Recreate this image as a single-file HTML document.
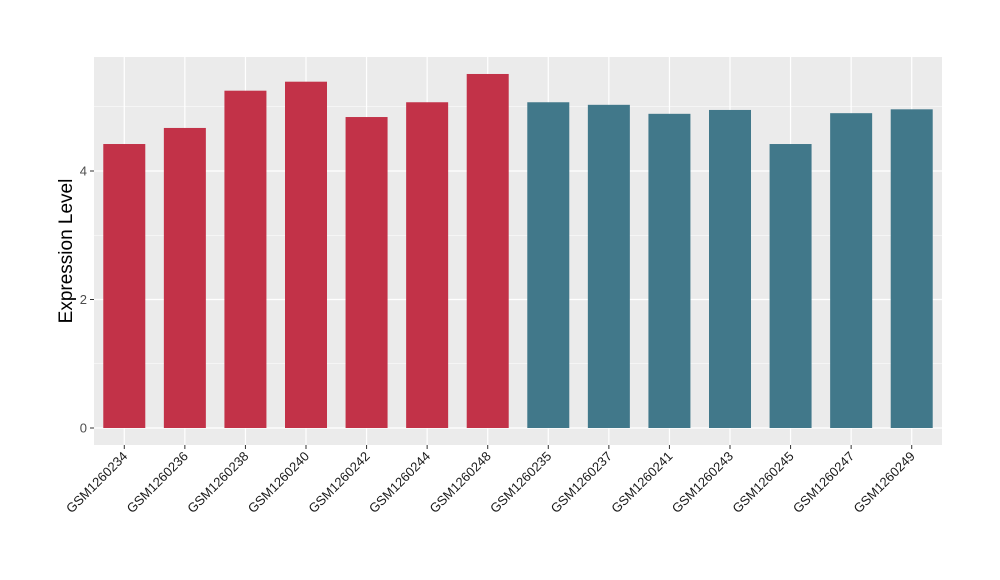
<!DOCTYPE html>
<html><head><meta charset="utf-8"><style>
body{margin:0;background:#fff;}
svg{display:block;font-family:"Liberation Sans",sans-serif;}
</style></head><body>
<svg id="chart" width="1000" height="580">
<rect x="94" y="57" width="848" height="388" fill="#ebebeb"/>
<g id="grid"></g><g id="bars"></g><g id="axes"></g>
<text transform="translate(72,251) rotate(-90)" text-anchor="middle" font-size="19" fill="#000">Expression Level</text>
</svg>
<script>
const categories=["GSM1260234","GSM1260236","GSM1260238","GSM1260240","GSM1260242","GSM1260244","GSM1260248","GSM1260235","GSM1260237","GSM1260241","GSM1260243","GSM1260245","GSM1260247","GSM1260249"];
const values=[4.42,4.67,5.25,5.39,4.84,5.07,5.51,5.07,5.03,4.89,4.95,4.42,4.90,4.96];
const groups=["a","a","a","a","a","a","a","b","b","b","b","b","b","b"];
const yTicks=[0,2,4];
const ns="http://www.w3.org/2000/svg";
const x0=94,x1=942,yZero=428,ppu=64.25;
const step=(x1-x0)/categories.length;
const xs=i=>x0+step*(i+0.5);
const ys=v=>yZero-v*ppu;
const mk=(t,a,p)=>{const e=document.createElementNS(ns,t);for(const k in a)e.setAttribute(k,a[k]);p.appendChild(e);return e;};
const grid=document.getElementById('grid'),bars=document.getElementById('bars'),axes=document.getElementById('axes');
[1,3,5].forEach(v=>{const l=mk('line',{x1:x0,x2:x1,y1:ys(v),y2:ys(v),stroke:'#fff','stroke-width':0.6},grid);

});
yTicks.forEach(v=>{const l=mk('line',{x1:x0,x2:x1,y1:ys(v),y2:ys(v),stroke:'#fff','stroke-width':1.2},grid);


const t=mk('line',{x1:x0-4,x2:x0,y1:ys(v),y2:ys(v),stroke:'#333'},axes);


const tx=mk('text',{x:x0-7,y:ys(v)+4.5,'text-anchor':'end','font-size':13,fill:'#4d4d4d'},axes);
tx.textContent=v;

});
categories.forEach((c,i)=>{const x=xs(i);
const g=mk('line',{x1:x,x2:x,y1:57,y2:445,stroke:'#fff','stroke-width':1.2},grid);


const b=mk('rect',{x:x-21,width:42,y:ys(values[i]),height:values[i]*ppu,fill:groups[i]==='a'?'#c23248':'#41788a'},bars);


const t=mk('line',{x1:x,x2:x,y1:445,y2:449,stroke:'#333'},axes);


const tx=mk('text',{'text-anchor':'end','font-size':13,fill:'#1a1a1a',transform:`translate(${x+4},${457}) rotate(-45)`},axes);
tx.textContent=c;

});
</script>
</body></html>
